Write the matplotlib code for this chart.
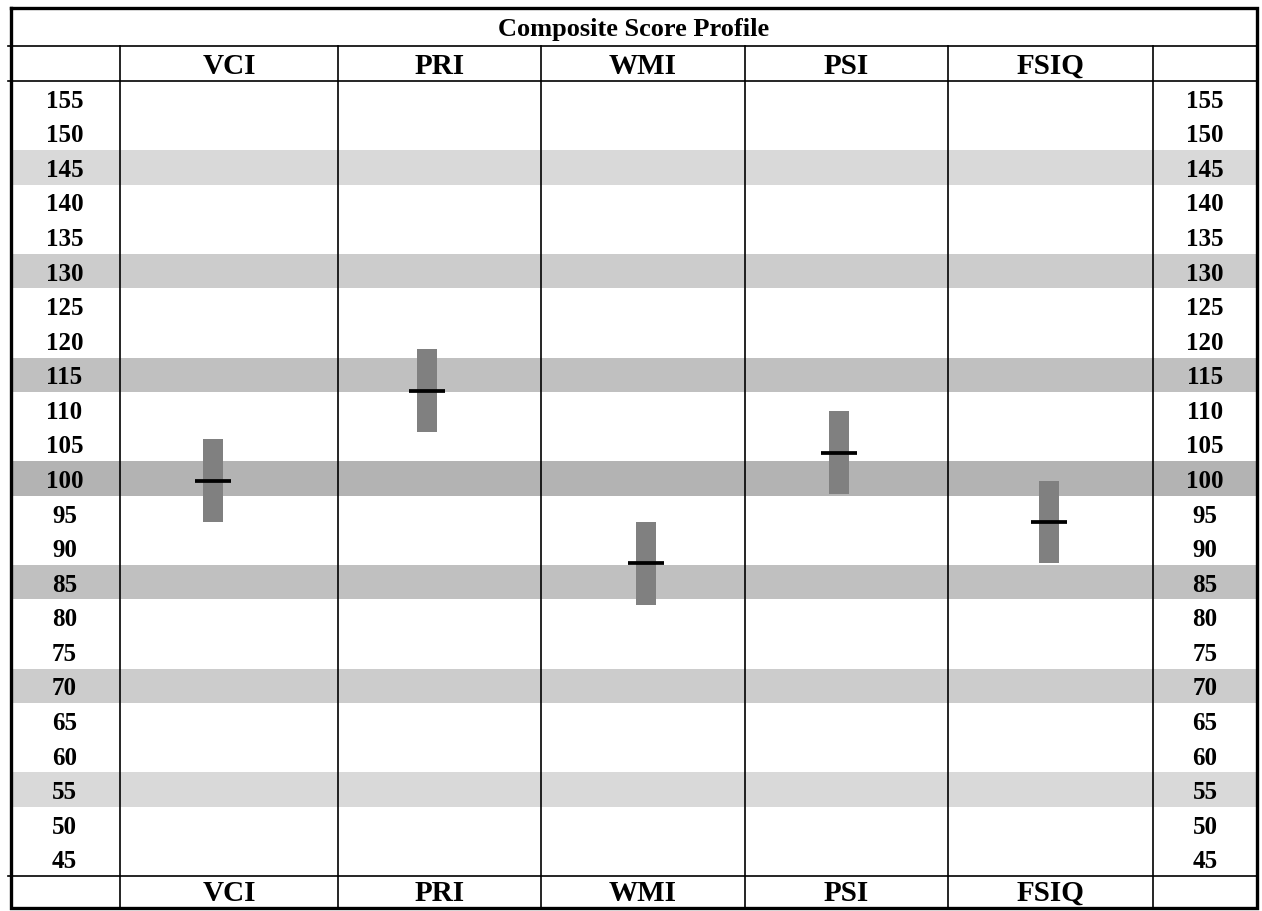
import numpy as np
import matplotlib
matplotlib.use("Agg")
import matplotlib.pyplot as plt

# data
indexes = ["VCI", "PRI", "WMI", "PSI", "FSIQ"]
scores = [100, 113, 88, 104, 94]
ci_low = [94, 107, 82, 98, 88]
ci_high = [106, 119, 94, 110, 100]
row_values = list(range(155, 40, -5))
band_values = [145, 130, 115, 100, 85, 70, 55]
band_colors = ["#d9d9d9", "#cccccc", "#c0c0c0", "#b3b3b3", "#c0c0c0", "#cccccc", "#d9d9d9"]

# layout (pixels)
W, H = 1262, 912
col_edges = [11, 120, 338, 541, 745, 948, 1153, 1257]
bar_offsets = [-16, -13, 3, -8, -2]
top_y, title_y, head_y, foot_y, bottom_y = 9, 47, 82, 877, 909
row_px = (foot_y - head_y) / len(row_values)
shift = 2 / (row_px / 5)  # marks and labels sit ~2px below row centre


def py(p):
    # pixel row -> score units
    return 157.5 - (p - head_y) / (row_px / 5)


plt.rcParams["font.family"] = ["Liberation Serif", "DejaVu Serif"]
fig = plt.figure(figsize=(W / 100, H / 100), dpi=100)
ax = fig.add_axes([0, 0, 1, 1])
ax.set_xlim(0, W)
ax.set_ylim(py(H), py(0))
ax.axis("off")

# shaded bands
ax.barh(band_values, width=col_edges[-1] - col_edges[0], left=col_edges[0],
        height=5, color=band_colors, zorder=1)

# grid lines
for x in col_edges[1:-1]:
    ax.plot([x, x], [py(title_y), py(bottom_y)], color="black", lw=1.2, zorder=2)
for y in [title_y, head_y, foot_y]:
    ax.plot([col_edges[0] - 3, col_edges[-1]], [py(y), py(y)], color="black", lw=1.2, zorder=2)
ax.plot([col_edges[0], col_edges[0], col_edges[-1], col_edges[-1], col_edges[0]],
        [py(top_y), py(bottom_y), py(bottom_y), py(top_y), py(top_y)],
        color="black", lw=2.4, zorder=3, solid_joinstyle="miter")

# confidence bars and score markers
centers = [(col_edges[i + 1] + col_edges[i + 2]) / 2 for i in range(len(indexes))]
bar_x = np.array(centers) + np.array(bar_offsets)
ax.bar(bar_x, np.array(ci_high) - np.array(ci_low), bottom=np.array(ci_low) - shift, width=20,
       color="#808080", zorder=4)
ax.hlines(np.array(scores) - shift, bar_x - 18, bar_x + 18, color="black", lw=2.7, zorder=5)

# text
ax.text((col_edges[0] + col_edges[-1]) / 2, py((top_y + title_y) / 2 + 1.5), "Composite Score Profile",
        ha="center", va="center", fontsize=19, fontweight="bold")
for i, name in enumerate(indexes):
    for y in [(title_y + head_y) / 2 + 2, (foot_y + bottom_y) / 2 + 0.5]:
        ax.text(centers[i], py(y), name, ha="center", va="center", fontsize=21, fontweight="bold")
left_c = (col_edges[0] + col_edges[1]) / 2 - 1
right_c = (col_edges[-2] + col_edges[-1]) / 2
for v in row_values:
    for x in [left_c, right_c]:
        ax.text(x, v - shift, str(v), ha="center", va="center", fontsize=18, fontweight="bold")

fig.savefig("out.png", dpi=100)
